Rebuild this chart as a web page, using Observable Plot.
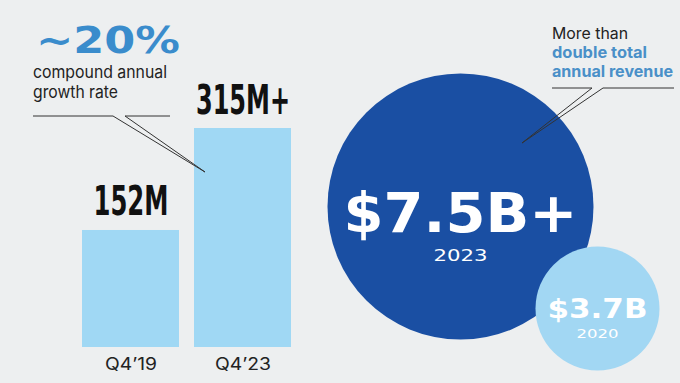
<!DOCTYPE html>
<html>
<head>
<meta charset="utf-8">
<script src="https://cdn.jsdelivr.net/npm/d3@7"></script>
<script src="https://cdn.jsdelivr.net/npm/@observablehq/plot@0.6"></script>
<style>
  html, body { margin: 0; padding: 0; background: #edeff0; }
  #wrap { position: relative; width: 680px; height: 383px; overflow: hidden; background: #edeff0; }
  #wrap > svg, #wrap > figure { position: absolute; top: 0; margin: 0; }
</style>
</head>
<body>
<div id="wrap"></div>
<script>
// ---- data ----
const quarters = ["Q4\u201919", "Q4\u201923"];
const subscribers = [152, 315];            // millions
const subscriberLabels = ["152M", "315M+"];
const years = [2023, 2020];
const revenue = [7.5, 3.7];                // $ billions
const revenueLabels = ["$7.5B+", "$3.7B"];
const yearLabels = ["2023", "2020"];

const bars = quarters.map((q, i) => ({q, v: subscribers[i], label: subscriberLabels[i]}));
const circles = years.map((y, i) => ({year: y, v: revenue[i], label: revenueLabels[i], ylabel: yearLabels[i]}));

const wrap = document.getElementById("wrap");
const YMIN = -35;

const stretch = (nodes, widths) => nodes.forEach((n, i) => {
  n.setAttribute("textLength", widths[i]);
  n.setAttribute("lengthAdjust", "spacingAndGlyphs");
});

// ---- left: bars ----
const left = Plot.plot({
  width: 310, height: 383,
  marginTop: 0, marginRight: 0, marginLeft: 0, marginBottom: 36,
  style: {background: "transparent", overflow: "visible", color: "#222"},
  x: {domain: quarters, range: [81, 291], paddingInner: 0.134, paddingOuter: 0},
  y: {domain: [YMIN, 315], range: [347, 128], axis: null},
  marks: [
    Plot.barY(bars, {x: "q", y1: YMIN, y2: "v", fill: "#a0d8f4"}),
    Plot.text(bars, {x: "q", y: "v", text: "label", lineAnchor: "bottom", dy: -15,
      fontSize: 41, fontWeight: "bold", fill: "#111",
      fontFamily: "'Liberation Sans Narrow', 'DejaVu Sans Condensed', 'Roboto Condensed', sans-serif"}),
    Plot.axisX({tickSize: 0, tickPadding: 10, fontSize: 17, fontFamily: "Inter, 'Liberation Sans', sans-serif", label: null, fill: "#222"})
  ]
});
left.style.left = "0px";
wrap.appendChild(left);
stretch(d3.select(left).selectAll("g[aria-label='text'] text").nodes(), [75, 94]);
stretch(d3.select(left).selectAll("g[aria-label='x-axis tick label'] text").nodes(), [52, 56]);

// ---- right: circles ----
const bigC = circles.filter(d => d.year === 2023);
const smallC = circles.filter(d => d.year === 2020);
const right = Plot.plot({
  width: 370, height: 383,
  margin: 0,
  style: {background: "transparent", overflow: "visible"},
  x: {type: "point", domain: years, range: [150, 287.5], padding: 0, axis: null},
  y: {type: "point", domain: years, range: [205.5, 308], padding: 0, axis: null},
  r: {type: "linear", domain: [3.7, 7.5], range: [62, 133]},
  color: {domain: years, range: ["#1a4fa3", "#a2d7f3"]},
  marks: [
    Plot.dot(circles, {x: "year", y: "year", r: "v", fill: "year", stroke: null, sort: null}),
    Plot.text(bigC, {x: "year", y: "year", text: "label", lineAnchor: "bottom", dy: 25,
      fontSize: 55, fontWeight: "bold", fill: "white", fontFamily: "'DejaVu Sans', sans-serif"}),
    Plot.text(bigC, {x: "year", y: "year", text: "ylabel", lineAnchor: "bottom", dy: 54,
      fontSize: 16, fill: "white", fontFamily: "'DejaVu Sans', sans-serif"}),
    Plot.text(smallC, {x: "year", y: "year", text: "label", lineAnchor: "bottom", dy: 9,
      fontSize: 26, fontWeight: "bold", fill: "white", fontFamily: "'DejaVu Sans', sans-serif"}),
    Plot.text(smallC, {x: "year", y: "year", text: "ylabel", lineAnchor: "bottom", dy: 29,
      fontSize: 12, fill: "white", fontFamily: "'DejaVu Sans', sans-serif"})
  ]
});
right.style.left = "310px";
wrap.appendChild(right);
const tg = d3.select(right).selectAll("g[aria-label='text']").nodes();
const widths = [234, 54, 100, 42];
tg.forEach((g, i) => stretch(d3.select(g).selectAll("text").nodes(), [widths[i]]));

// ---- annotations overlay ----
const ann = d3.create("svg").attr("width", 680).attr("height", 383)
  .style("left", "0px").style("pointer-events", "none");
const t = (x, y, s, opts = {}) => ann.append("text").attr("x", x).attr("y", y).text(s)
  .attr("font-size", opts.size || 17)
  .attr("font-family", opts.family || "Inter, 'Liberation Sans', sans-serif")
  .attr("font-weight", opts.weight || "normal")
  .attr("fill", opts.fill || "#222")
  .call(sel => { if (opts.len) sel.attr("textLength", opts.len).attr("lengthAdjust", "spacingAndGlyphs"); });

t(36, 53, "~20%", {size: 38, weight: "bold", fill: "#3a8ccc", family: "'DejaVu Sans', sans-serif", len: 144});
t(33, 78, "compound annual", {size: 17, len: 134});
t(33, 98, "growth rate", {size: 17, len: 85});
t(552, 39, "More than", {size: 16, len: 76});
t(552, 58, "double total", {size: 16, weight: "bold", fill: "#4a90c8", len: 95});
t(552, 77, "annual revenue", {size: 16, weight: "bold", fill: "#4a90c8", len: 121});

const line = d3.line();
const seg = pts => ann.append("path").attr("d", line(pts)).attr("fill", "none").attr("stroke", "#333").attr("stroke-width", 1);
seg([[33,116],[113,116],[205,172]]);
seg([[170,116],[125,116],[205,172]]);
seg([[552,88],[592,88],[522,143]]);
seg([[674,88],[603,88],[522,143]]);
wrap.appendChild(ann.node());
</script>
</body>
</html>
